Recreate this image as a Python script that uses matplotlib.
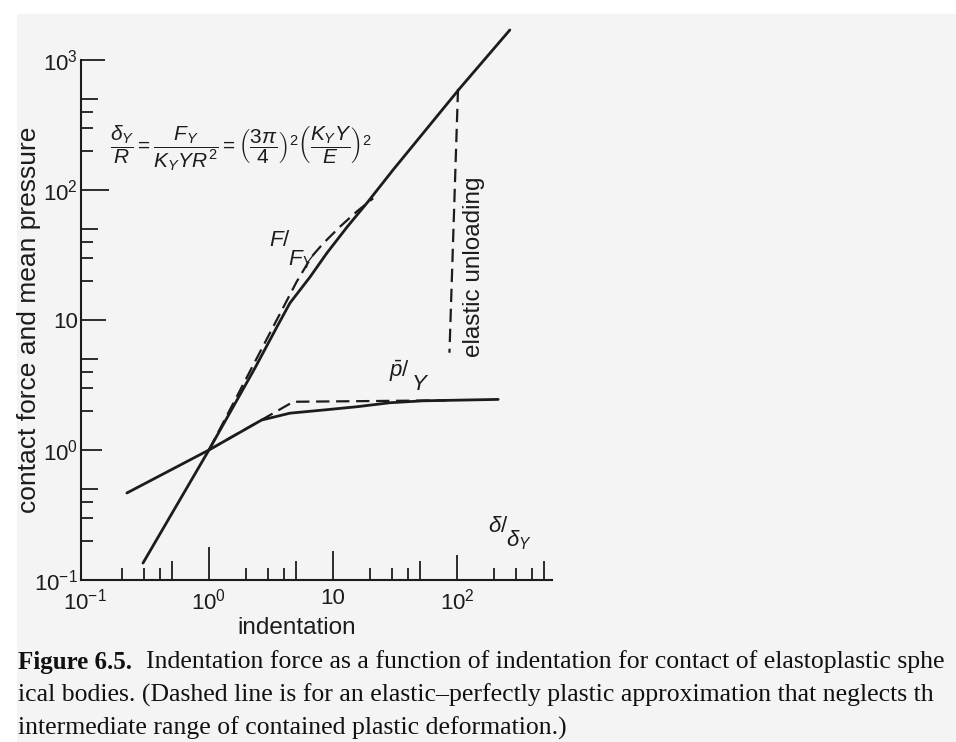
import matplotlib
matplotlib.use('Agg')
import matplotlib.pyplot as plt
from matplotlib.ticker import FixedLocator, FixedFormatter, NullFormatter
from matplotlib.patches import Rectangle

plt.rcParams['font.family'] = ['Liberation Sans', 'DejaVu Sans']
plt.rcParams['mathtext.fontset'] = 'custom'
plt.rcParams['mathtext.rm'] = 'Liberation Sans'
plt.rcParams['mathtext.it'] = 'Liberation Sans:italic'
plt.rcParams['mathtext.bf'] = 'Liberation Sans:bold'

# ---- data ----
force_x = [0.294, 1.0, 2.35, 3.53, 4.50, 6.53, 8.95, 13.0, 18.8, 30.5, 106, 267]
force_y = [0.135, 1.0, 4.27, 8.83, 13.5, 21.4, 32.8, 51.9, 79.4, 142.6, 609, 1702]
force_ep_x = [1.0, 5.1, 6.73, 8.36, 11.4, 15.5, 21.1]
force_ep_y = [1.0, 19.7, 30.7, 38.9, 52.2, 68.1, 86.3]
pressure_x = [0.218, 1.0, 2.66, 4.5, 8.36, 15.5, 28.8, 53.5, 215]
pressure_y = [0.467, 1.0, 1.70, 1.92, 2.03, 2.15, 2.31, 2.39, 2.45]
pressure_ep_x = [1.0, 4.79, 82.6]
pressure_ep_y = [1.0, 2.35, 2.41]
unload_x = [102, 87]
unload_y = [600, 5.6]

x_major = [0.1, 1, 10, 100]
x_major_labels = ['$10^{-1}$', '$10^{0}$', '10', '$10^{2}$']
x_minor = [0.2, 0.3, 0.4, 0.5, 2, 3, 4, 5, 20, 30, 40, 50, 200, 300, 400, 500]
y_major = [0.1, 1, 10, 100, 1000]
y_major_labels = ['$10^{-1}$', '$10^{0}$', '10', '$10^{2}$', '$10^{3}$']
y_minor = [0.2, 0.3, 0.4, 0.5, 2, 3, 4, 5, 20, 30, 40, 50, 200, 300, 400, 500]

ink = '#1c1c1c'
W, H = 956, 742
fig = plt.figure(figsize=(W / 100, H / 100), dpi=100, facecolor='white')
fig.patches.append(Rectangle((17 / W, 0), 1, 1 - 14 / H, transform=fig.transFigure,
                             facecolor='#f4f4f4', edgecolor='none', zorder=-10))

ax = fig.add_axes([81 / W, 1 - 580 / H, 471 / W, 520 / H])
ax.set_facecolor('none')
ax.set_xscale('log')
ax.set_yscale('log')
ax.set_xlim(0.093, 584)
ax.set_ylim(0.1, 1000)

for s in ('top', 'right'):
    ax.spines[s].set_visible(False)
for s in ('left', 'bottom'):
    ax.spines[s].set_linewidth(1.5)
    ax.spines[s].set_color(ink)

dash = (0, (6, 3))
ax.plot(force_x, force_y, color=ink, lw=2.0, solid_capstyle='round', clip_on=False)
ax.plot(pressure_x, pressure_y, color=ink, lw=2.0, solid_capstyle='round')
ax.plot(force_ep_x, force_ep_y, color=ink, lw=1.6, linestyle=dash)
ax.plot(pressure_ep_x, pressure_ep_y, color=ink, lw=1.6, linestyle=dash)
ax.plot(unload_x, unload_y, color=ink, lw=1.6, linestyle=dash)

ax.xaxis.set_major_locator(FixedLocator(x_major))
ax.xaxis.set_major_formatter(FixedFormatter(x_major_labels))
ax.xaxis.set_minor_locator(FixedLocator(x_minor))
ax.xaxis.set_minor_formatter(NullFormatter())
ax.yaxis.set_major_locator(FixedLocator(y_major))
ax.yaxis.set_major_formatter(FixedFormatter(y_major_labels))
ax.yaxis.set_minor_locator(FixedLocator(y_minor))
ax.yaxis.set_minor_formatter(NullFormatter())

ax.tick_params(which='both', direction='in', color=ink, width=1.3, labelcolor=ink,
               labelsize=16)
ax.tick_params(which='major', length=21)
ax.tick_params(which='minor', length=8.5)
ax.tick_params(axis='x', which='major', pad=6)
ax.tick_params(axis='y', which='major', pad=2)

# individual tick lengths / faint ticks, as in the scan
xt = ax.xaxis.get_major_ticks(len(x_major))
xt[0].tick1line.set_markersize(0)
xt[1].tick1line.set_markersize(24)
xt[3].tick1line.set_color('#c4c4c4')
xt[3].tick1line.set_markersize(18)
for i, t in enumerate(ax.xaxis.get_minor_ticks(len(x_minor))):
    if x_minor[i] in (0.5, 5, 50, 500):
        t.tick1line.set_markersize(14)
yt = ax.yaxis.get_major_ticks(len(y_major))
yt[1].tick1line.set_color('#c4c4c4')
yt[1].tick1line.set_markersize(15)
yt[2].tick1line.set_color('#c4c4c4')
yt[2].tick1line.set_markersize(18)
yt[3].tick1line.set_markersize(20)
yt[4].tick1line.set_markersize(17)
for i, t in enumerate(ax.yaxis.get_minor_ticks(len(y_minor))):
    if y_minor[i] in (0.5, 5, 50, 500):
        t.tick1line.set_markersize(12.5)

ax.set_xlabel('indentation', fontsize=17.5, color=ink)
ax.xaxis.set_label_coords((297 - 81) / 471, (580 - 628) / 520)
ax.xaxis.label.set_va('center')
ax.set_ylabel('contact force and mean pressure', fontsize=19, color=ink)
ax.yaxis.set_label_coords((29 - 81) / 471, (580 - 320) / 520)
ax.yaxis.label.set_va('center')

def ftext(px, py, s, **kw):
    fig.text(px / W, 1 - py / H, s, **kw)

ftext(110, 148, r'$\dfrac{\delta_Y}{R}=\dfrac{F_Y}{K_Y Y R^2}=\left(\dfrac{3\pi}{4}\right)^2\left(\dfrac{K_Y Y}{E}\right)^2$',
      fontsize=15, color=ink, ha='left', va='center')

lab = dict(fontsize=16, color=ink, va='center')
# curve labels written as slashed fractions with a lowered denominator
ftext(280, 241, r'$F/$', ha='center', **lab)
ftext(288, 260, r'$F_Y$', ha='left', **lab)
ftext(400, 371, r'$\bar{p}/$', ha='center', **lab)
ftext(411, 384, r'$Y$', ha='left', **lab)
ftext(498, 526, r'$\delta/$', ha='center', **lab)
ftext(506, 540, r'$\delta_Y$', ha='left', **lab)

ftext(474, 267, 'elastic unloading', fontsize=17.5, color=ink, ha='center', va='center',
      rotation=90)

# caption lines, as far as the scan shows them
cap = dict(family=['Liberation Serif', 'DejaVu Serif'], color='#111111',
           va='center', ha='left')
ftext(18, 662, 'Figure 6.5.', fontweight='bold', fontsize=18, **cap)
ftext(146, 662, 'Indentation force as a function of indentation for contact of elastoplastic sphe',
      fontsize=18.5, **cap)
ftext(18, 695, 'ical bodies. (Dashed line is for an elastic\u2013perfectly plastic approximation that neglects th',
      fontsize=18.5, **cap)
ftext(18, 728, 'intermediate range of contained plastic deformation.)', fontsize=18.5, **cap)

fig.savefig('out.png', dpi=100, facecolor=fig.get_facecolor())
